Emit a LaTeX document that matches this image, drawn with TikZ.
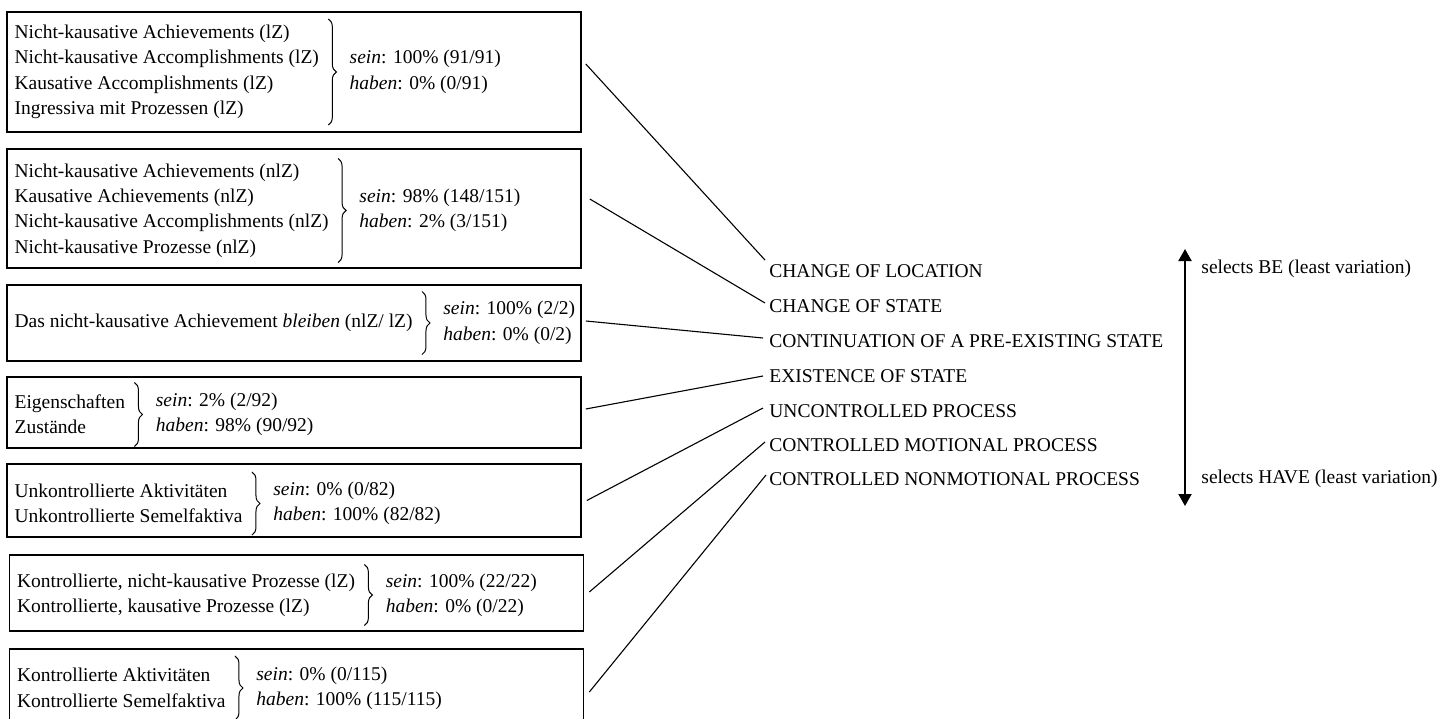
\documentclass[tikz,border=0pt]{standalone}
\usepackage{fontspec}
\setmainfont{Liberation Serif}
\usetikzlibrary{positioning, arrows.meta, calc, decorations.pathreplacing}
\tikzset{
  hv@box/.style={draw, line width=0.8pt, minimum width=287pt, inner sep=0pt},
  hv@txt/.style={align=left, inner sep=2pt, anchor=west,
                 font=\fontsize{9.75}{12.7}\selectfont},
  hv@cls/.style={inner sep=2pt, anchor=west, font=\fontsize{9.75}{12.7}\selectfont},
  hv@brace/.style={decorate, decoration={brace, amplitude=4pt}, line width=0.5pt},
  hv@link/.style={line width=0.55pt},
  hv@scale/.style={line width=1pt,
    {Triangle[width=6.5pt,length=6pt]}-{Triangle[width=6.5pt,length=6pt]}},
}
\begin{document}
\begin{tikzpicture}[x=0.5pt, y=-0.5pt]
  \useasboundingbox (0,0) rectangle (1439,718);
  \clip (0,0) rectangle (1439,718);

  % Aktionsarten-Boxen
  \node[hv@box, minimum height=60pt]   (b1) at (294,72)    {};
  \node[hv@box, minimum height=59.5pt] (b2) at (294,208.5) {};
  \node[hv@box, minimum height=38pt]   (b3) at (294,323)   {};
  \node[hv@box, minimum height=35.5pt] (b4) at (294,412.5) {};
  \node[hv@box, minimum height=36.5pt] (b5) at (294,500.5) {};
  \node[hv@box, minimum height=38pt]   (b6) at (296.5,593) {};
  \node[hv@box, minimum height=39pt]   (b7) at (296.5,688) {};

  \node[hv@txt] (l1) at ($(b1.west)+(4,0)$) {Nicht-kausative Achievements (lZ)\\
    Nicht-kausative Accomplishments (lZ)\\Kausative Accomplishments (lZ)\\
    Ingressiva mit Prozessen (lZ)};
  \node[hv@txt, right=11pt of l1] (r1) {\textit{sein}: 100\% (91/91)\\\textit{haben}: 0\% (0/91)};
  \draw[hv@brace] ($(l1.east)+(5,-53)$) -- ($(l1.east)+(5,53)$);

  \node[hv@txt] (l2) at ($(b2.west)+(4,2)$) {Nicht-kausative Achievements (nlZ)\\
    Kausative Achievements (nlZ)\\Nicht-kausative Accomplishments (nlZ)\\
    Nicht-kausative Prozesse (nlZ)};
  \node[hv@txt, right=11pt of l2] (r2) {\textit{sein}: 98\% (148/151)\\\textit{haben}: 2\% (3/151)};
  \draw[hv@brace] ($(l2.east)+(5,-52)$) -- ($(l2.east)+(5,52)$);

  \node[hv@txt] (l3) at ($(b3.west)+(4,0)$) {Das nicht-kausative Achievement \textit{bleiben} (nlZ/ lZ)};
  \node[hv@txt, right=11pt of l3] (r3) {\textit{sein}: 100\% (2/2)\\\textit{haben}: 0\% (0/2)};
  \draw[hv@brace] ($(l3.east)+(5,-31.5)$) -- ($(l3.east)+(5,31.5)$);

  \node[hv@txt] (l4) at ($(b4.west)+(4,2)$) {Eigenschaften\\Zustände};
  \node[hv@txt, right=11pt of l4] (r4) {\textit{sein}: 2\% (2/92)\\\textit{haben}: 98\% (90/92)};
  \draw[hv@brace] ($(l4.east)+(5,-32)$) -- ($(l4.east)+(5,32)$);

  \node[hv@txt] (l5) at ($(b5.west)+(4,3)$) {Unkontrollierte Aktivitäten\\Unkontrollierte Semelfaktiva};
  \node[hv@txt, right=11pt of l5] (r5) {\textit{sein}: 0\% (0/82)\\\textit{haben}: 100\% (82/82)};
  \draw[hv@brace] ($(l5.east)+(5,-31.5)$) -- ($(l5.east)+(5,31.5)$);

  \node[hv@txt] (l6) at ($(b6.west)+(4,2)$) {Kontrollierte, nicht-kausative Prozesse (lZ)\\
    Kontrollierte, kausative Prozesse (lZ)};
  \node[hv@txt, right=11pt of l6] (r6) {\textit{sein}: 100\% (22/22)\\\textit{haben}: 0\% (0/22)};
  \draw[hv@brace] ($(l6.east)+(5,-30.5)$) -- ($(l6.east)+(5,30.5)$);

  \node[hv@txt] (l7) at ($(b7.west)+(4,0)$) {Kontrollierte Aktivitäten\\Kontrollierte Semelfaktiva};
  \node[hv@txt, right=11pt of l7] (r7) {\textit{sein}: 0\% (0/115)\\\textit{haben}: 100\% (115/115)};
  \draw[hv@brace] ($(l7.east)+(5,-32)$) -- ($(l7.east)+(5,32)$);

  % Hierarchie
  \node[hv@cls] (loc)   at (765,271) {CHANGE OF LOCATION};
  \node[hv@cls] (cos)   at (765,306) {CHANGE OF STATE};
  \node[hv@cls] (cont)  at (765,341) {CONTINUATION OF A PRE-EXISTING STATE};
  \node[hv@cls] (exist) at (765,376) {EXISTENCE OF STATE};
  \node[hv@cls] (uproc) at (765,411) {UNCONTROLLED PROCESS};
  \node[hv@cls] (cmot)  at (765,445) {CONTROLLED MOTIONAL PROCESS};
  \node[hv@cls] (cnon)  at (765,479) {CONTROLLED NONMOTIONAL PROCESS};

  \draw[hv@link] ([xshift=2pt,yshift=4pt]b1.east)      -- (loc.north west);
  \draw[hv@link] ([xshift=4pt,yshift=4.75pt]b2.east)   -- ([yshift=1.5pt]cos.west);
  \draw[hv@link] ([xshift=2pt,yshift=1pt]b3.east)      -- ([xshift=-1pt,yshift=1.5pt]cont.west);
  \draw[hv@link] ([xshift=2pt,yshift=1.75pt]b4.east)   -- ([xshift=-1pt]exist.west);
  \draw[hv@link] ([xshift=2.5pt]b5.east)               -- ([xshift=-1pt,yshift=1.5pt]uproc.west);
  \draw[hv@link] ([xshift=2.5pt,yshift=0.5pt]b6.east)  -- ([yshift=1.5pt]cmot.west);
  \draw[hv@link] ([xshift=2.5pt,yshift=-2pt]b7.east)   -- ([xshift=0.5pt,yshift=2pt]cnon.west);

  % Skala
  \coordinate (beTip)   at (1185,249);
  \coordinate (haveTip) at (1185,506);
  \draw[hv@scale] (haveTip) -- (beTip);
  \node[hv@cls] (be)   at (1197,269) {selects BE (least variation)};
  \node[hv@cls] (have) at (1197,479) {selects HAVE (least variation)};
\end{tikzpicture}
\end{document}
